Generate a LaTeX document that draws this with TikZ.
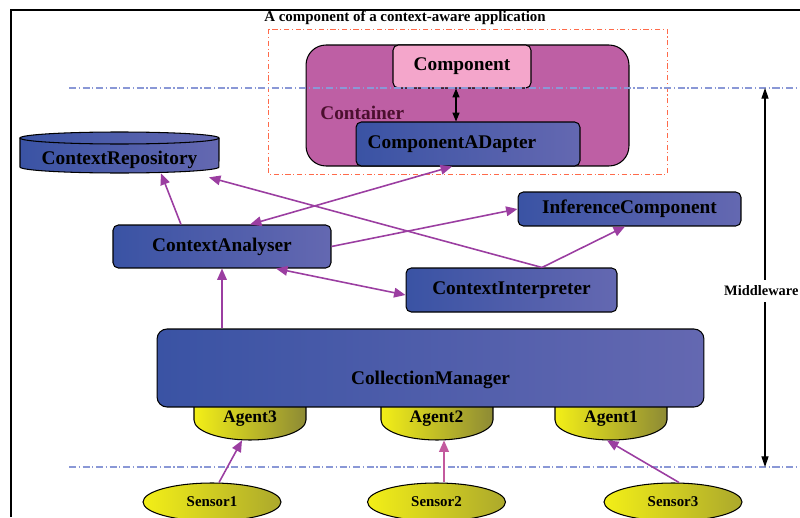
\documentclass[tikz,border=0pt]{standalone}
\usepackage{fontspec}
\setmainfont{Liberation Serif}
\usetikzlibrary{shapes.geometric, arrows.meta, positioning}
\definecolor{bluedark}{HTML}{3A53A4}
\definecolor{bluelight}{HTML}{6468B1}
\definecolor{containerpink}{HTML}{BE5FA4}
\definecolor{lightpink}{HTML}{F4A6CB}
\definecolor{maroon}{HTML}{4B0F2E}
\definecolor{yellowbright}{HTML}{F3EF17}
\definecolor{yellowdark}{HTML}{8D8A35}
\definecolor{flowpurple}{HTML}{9B3EA1}
\definecolor{flowpink}{HTML}{C35A9E}
\definecolor{sepblue}{HTML}{8A98D6}
\definecolor{redline}{HTML}{FF6A4A}

\begin{document}
\begin{tikzpicture}[
        x=0.02cm, y=-0.02cm,
        box/.style={rectangle, draw, rounded corners=3pt, line width=0.6pt, left color=bluedark, right color=bluelight, inner sep=0pt, font=\bfseries\fontsize{11}{13}\selectfont},
        pinkbox/.style={rectangle, draw, rounded corners=3pt, line width=0.6pt, fill=lightpink, inner sep=0pt, font=\bfseries\fontsize{11}{13}\selectfont},
        blobtext/.style={inner sep=0pt, font=\bfseries\fontsize{11}{13}\selectfont},
        agenttext/.style={inner sep=0pt, minimum width=2.24cm, minimum height=0.66cm, text depth=0.26cm, font=\bfseries\fontsize{10}{12}\selectfont},
        agentshape/.style={draw, line width=0.6pt, left color=yellowbright, right color=yellowdark},
        sensor/.style={ellipse, draw, line width=0.6pt, left color=yellowbright, right color=yellowdark!70!yellowbright, minimum width=2.76cm, minimum height=0.76cm, inner sep=0pt, font=\bfseries\fontsize{8.5}{10}\selectfont},
        flow/.style={draw=flowpurple, line width=0.9pt, -{Triangle[length=6.5pt, width=5.5pt]}},
        sepline/.style={draw=sepblue, line width=0.8pt, dash pattern=on 4pt off 1.5pt on 0.7pt off 1.5pt},
        redbox/.style={draw=redline, line width=0.5pt, dash pattern=on 3pt off 1.5pt on 0.6pt off 1.5pt}
    ]
        \useasboundingbox (0,0) rectangle (800,517);

        % outer frame and title
        \draw[line width=1.2pt] (11,517) -- (11,10) -- (800,10);
        \node (title) at (405,18) [font=\bfseries\fontsize{8.5}{10}\selectfont] {A component of a context-aware application};
        \draw[redbox] (268,29) rectangle (667,174);

        % application component
        \node (container) [draw, line width=0.6pt, rounded corners=0.4cm, fill=containerpink, minimum width=6.46cm, minimum height=2.42cm] at (467.5,105.5) {};
        \node (comp) [pinkbox, minimum width=2.76cm, minimum height=0.86cm] at (462,66.5) {Component};
        \node (cont) [blobtext, anchor=west, text=maroon] at (320,113) {Container};
        \node (adapter) [box, minimum width=4.48cm, minimum height=0.88cm] at (468,144) {ComponentADapter\kern0.64cm};

        % repository
        \path[draw, line width=0.6pt, left color=bluedark, right color=bluelight] (20,138) -- (20,167)
            arc[start angle=180, end angle=360, x radius=1.99cm, y radius=0.12cm] -- (219,138)
            arc[start angle=0, end angle=180, x radius=1.99cm, y radius=0.12cm] -- cycle;
        \draw[line width=0.6pt] (20,138) arc[start angle=180, end angle=360, x radius=1.99cm, y radius=0.12cm];
        \node (repo) [blobtext, minimum width=3.98cm, minimum height=0.52cm] at (119.5,160) {ContextRepository};

        % middleware boxes
        \node (analyser) [box, minimum width=4.36cm, minimum height=0.86cm] at (222,246.5) {ContextAnalyser};
        \node (inference) [box, minimum width=4.46cm, minimum height=0.68cm] at (629.5,209) {InferenceComponent};
        \node (interp) [box, minimum width=4.22cm, minimum height=0.88cm] at (511.5,290) {ContextInterpreter};

        % agents below the manager
        \foreach \ax in {194,381,555}
            \path[agentshape] (\ax,400) -- (\ax,420)
                arc[start angle=180, end angle=360, x radius=1.12cm, y radius=0.4cm] -- (\ax+112,400) -- cycle;
        \node (agent3) [agenttext] at (250,423.5) {Agent3};
        \node (agent2) [agenttext] at (436.5,423.5) {Agent2};
        \node (agent1) [agenttext] at (611,423.5) {Agent1};
        \node (manager) [box, rounded corners=0.2cm, minimum width=10.94cm, minimum height=1.56cm, text height=0.76cm] at (430.5,368) {CollectionManager};

        % sensors
        \node (sensor1) [sensor] at (212,502) {Sensor1};
        \node (sensor2) [sensor] at (436.5,502) {Sensor2};
        \node (sensor3) [sensor] at (673,502) {Sensor3};

        % separators and middleware span
        \draw[sepline] (69,88) -- (800,88);
        \draw[sepline] (69,467) -- (800,467);
        \coordinate (mwtop) at (765,88);
        \coordinate (mwbot) at (765,467);
        \draw[line width=0.6pt, {Triangle[length=6pt, width=4pt]}-{Triangle[length=6pt, width=4pt]}] (mwtop) -- (mwbot);
        \node (mw) [anchor=west, fill=white, inner xsep=0.5pt, font=\bfseries\fontsize{8.2}{10}\selectfont] at (723,291) {Middleware};

        % component link
        \draw[line width=0.6pt, {Triangle[length=5pt, width=4pt]}-{Triangle[length=5pt, width=4pt]}] ([xshift=-0.12cm]comp.south) -- ([xshift=-0.12cm]comp.south |- adapter.north);

        % data flow
        \draw[flow] ([xshift=0.14cm]sensor1.north) -- ([xshift=-0.16cm]agent3.south);
        \draw[flow, draw=flowpink] ([xshift=0.15cm]sensor2.north) -- ([xshift=0.15cm]agent2.south);
        \draw[flow] ([xshift=0.12cm]sensor3.north) -- ([xshift=-0.08cm]agent1.south);
        \draw[flow] (manager.north -| analyser.south) -- (analyser.south);
        \draw[flow, {Triangle[length=6.5pt, width=5.5pt]}-{Triangle[length=6.5pt, width=5.5pt]}] ([xshift=1.08cm]analyser.south) -- ([yshift=-0.1cm]interp.west);
        \draw[flow] ([xshift=-0.82cm]analyser.north) -- ([xshift=0.83cm]repo.south);
        \draw[flow] (analyser.east) -- (inference.west);
        \draw[flow] ([xshift=0.61cm]interp.north) -- ([xshift=-0.09cm]inference.south);
        \draw[flow] ([xshift=0.61cm]interp.north) -- ([xshift=1.79cm, yshift=-0.08cm]repo.south);
        \draw[flow, {Triangle[length=6.5pt, width=5.5pt]}-{Triangle[length=6.5pt, width=5.5pt]}] ([xshift=-0.32cm]adapter.south) -- ([xshift=0.56cm]analyser.north);
    \end{tikzpicture}
\end{document}
